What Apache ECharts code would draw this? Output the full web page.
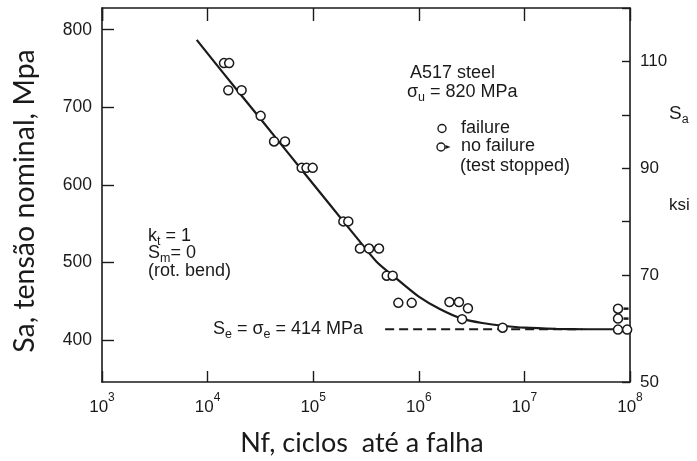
<!DOCTYPE html>
<html>
<head>
<meta charset="utf-8">
<script src="https://cdn.jsdelivr.net/npm/echarts@6/dist/echarts.min.js"></script>
<style>
  html, body { margin: 0; padding: 0; background: #fff; }
  #chart { width: 697px; height: 461px; }
</style>
</head>
<body>
<div id="chart"></div>
<script>
// S-N data for A517 steel, rotating bending, k_t = 1, S_m = 0
// Tests ending in failure: cycles to failure and stress amplitude (MPa)
const failCycles = [14300, 16000, 15700, 21000, 31800, 42600, 54100, 77800, 86400, 98900,
                    193000, 215000, 277000, 338000, 420000, 497000, 566000, 640000, 857000,
                    1950000, 2400000, 2920000, 2570000, 6220000];
const failStress = [757, 757, 722, 722, 689, 656, 656, 622, 622, 622,
                    553, 553, 518, 518, 518, 483, 483, 448, 448,
                    449, 449, 441, 427, 416];

// Run-outs (test stopped without failure)
const runoutCycles = [7.7e7, 7.7e7, 7.7e7, 9.4e7];
const runoutStress = [440.5, 427.7, 413.5, 413.5];
const runoutArrowCount = 3;

// Fitted S-N curve
const curveCycles = [7890, 14100, 25100, 44700, 79400, 141000, 251000, 398000, 631000,
                     1000000, 1580000, 2510000, 3980000, 6310000, 1e7, 2e7, 3.98e7, 1e8];
const curveStress = [787, 744, 702, 660, 618, 576, 534, 501, 478,
                     456, 440, 428, 422, 418.5, 416, 414.5, 414, 414];

// Fatigue limit and the range of the dashed reference line
const fatigueLimit = 414;
const limitLineCycles = [4.8e5, 3.5e7];

// Axis ranges and tick values
const cyclesRange = [1e3, 1e8];
const mpaRange = [346, 828];
const mpaTicks = [400, 500, 600, 700, 800];
const ksiRange = [50, 120];
const ksiTicks = [50, 60, 70, 80, 90, 100, 110, 120];
const ksiLabels = [50, 70, 90, 110];

const ink = '#1a1a1a';
const sans = '"Liberation Sans", Arial, sans-serif';
const titleFont = 'Lato, "Open Sans", sans-serif';

const zip = (a, b) => a.map((v, i) => [v, b[i]]);

const chart = echarts.init(document.getElementById('chart'), null, { renderer: 'canvas' });

// rich-text styles for subscripts in annotations
const subRich = {
  sub: { fontSize: 12.5, fontFamily: sans, fill: ink, verticalAlign: 'bottom', lineHeight: 12 }
};

function label(x, y, text, size, align) {
  return {
    type: 'text', x: x, y: y, z: 100,
    style: {
      text: text, fill: ink, font: size + 'px ' + sans,
      align: align || 'left', verticalAlign: 'middle',
      textAlign: align || 'left', textVerticalAlign: 'middle',
      lineHeight: 24, rich: subRich
    }
  };
}

const option = {
  animation: false,
  backgroundColor: '#fff',
  grid: { left: 102, right: 67, top: 8, bottom: 79, containLabel: false, outerBoundsMode: 'none' },
  xAxis: [
    {
      type: 'log', logBase: 10, min: cyclesRange[0], max: cyclesRange[1], position: 'bottom',
      axisLine: { show: true, lineStyle: { color: ink, width: 1.6 } },
      axisTick: { show: true, inside: true, length: 11, lineStyle: { color: ink, width: 1.4 } },
      splitLine: { show: false },
      minorTick: { show: false },
      axisLabel: {
        show: true, margin: 10, color: ink,
        formatter: function (v) {
          return '{b|10}{e|' + Math.round(Math.log10(v)) + '}';
        },
        rich: {
          b: { fontSize: 17, fontFamily: sans, color: ink, lineHeight: 24, verticalAlign: 'bottom' },
          e: { fontSize: 12, fontFamily: sans, color: ink, lineHeight: 12, verticalAlign: 'top' }
        }
      }
    },
    {
      type: 'log', logBase: 10, min: cyclesRange[0], max: cyclesRange[1], position: 'top',
      axisLine: { show: true, lineStyle: { color: ink, width: 1.6 } },
      axisTick: { show: true, inside: true, length: 13, lineStyle: { color: ink, width: 1.4 } },
      splitLine: { show: false },
      axisLabel: { show: false }
    }
  ],
  yAxis: [
    {
      type: 'value', min: mpaRange[0], max: mpaRange[1], position: 'left',
      axisLine: { show: true, lineStyle: { color: ink, width: 1.6 } },
      axisTick: { show: true, inside: true, length: 12, customValues: mpaTicks, lineStyle: { color: ink, width: 1.4 } },
      splitLine: { show: false },
      axisLabel: { show: true, customValues: mpaTicks, margin: 10, color: ink, fontSize: 17.5, fontFamily: sans }
    },
    {
      type: 'value', min: ksiRange[0], max: ksiRange[1], position: 'right',
      axisLine: { show: true, lineStyle: { color: ink, width: 1.6 } },
      axisTick: { show: true, inside: true, length: 8, customValues: ksiTicks, lineStyle: { color: ink, width: 1.4 } },
      splitLine: { show: false },
      axisLabel: { show: true, customValues: ksiLabels, margin: 10, color: ink, fontSize: 17, fontFamily: sans }
    }
  ],
  series: [
    {
      name: 'curve', type: 'line', xAxisIndex: 0, yAxisIndex: 0,
      data: zip(curveCycles, curveStress),
      smooth: 0.25, showSymbol: false, symbol: 'none',
      lineStyle: { color: ink, width: 2.2 }, z: 2
    },
    {
      name: 'fatigue limit', type: 'line', xAxisIndex: 0, yAxisIndex: 0,
      data: limitLineCycles.map(n => [n, fatigueLimit]),
      showSymbol: false, symbol: 'none',
      lineStyle: { color: ink, width: 2, type: [9, 5] }, z: 2
    },
    {
      name: 'failure', type: 'scatter', xAxisIndex: 0, yAxisIndex: 0,
      data: zip(failCycles, failStress),
      symbol: 'circle', symbolSize: 9,
      itemStyle: { color: '#fff', borderColor: ink, borderWidth: 1.5, opacity: 1 }, z: 5
    },
    {
      name: 'no failure', type: 'scatter', xAxisIndex: 0, yAxisIndex: 0,
      data: zip(runoutCycles, runoutStress),
      symbol: 'circle', symbolSize: 9,
      itemStyle: { color: '#fff', borderColor: ink, borderWidth: 1.5, opacity: 1 }, z: 5
    },
    {
      name: 'run-out arrows', type: 'scatter', xAxisIndex: 0, yAxisIndex: 0,
      data: zip(runoutCycles, runoutStress).slice(0, runoutArrowCount),
      symbol: 'rect', symbolSize: [5, 2.5], symbolOffset: [8, 0],
      itemStyle: { color: ink, opacity: 1 }, z: 4
    }
  ],
  graphic: [
    // axis titles
    {
      type: 'text', x: 25, y: 201, rotation: Math.PI / 2,
      style: { text: 'Sa, tensão nominal, Mpa', fill: ink, font: '28.5px ' + titleFont,
               align: 'center', verticalAlign: 'middle', textAlign: 'center', textVerticalAlign: 'middle' }
    },
    {
      type: 'text', x: 362, y: 443,
      style: { text: 'Nf, ciclos  até a falha', fill: ink, font: '27px ' + titleFont,
               align: 'center', verticalAlign: 'middle', textAlign: 'center', textVerticalAlign: 'middle' }
    },
    // material note
    label(410, 73, 'A517 steel', 18),
    label(407, 92, 'σ{sub|u} = 820 MPa', 18),
    // legend
    { type: 'circle', shape: { cx: 442, cy: 128.5, r: 4 }, style: { fill: '#fff', stroke: ink, lineWidth: 1.4 }, z: 100 },
    label(461, 128, 'failure', 18),
    { type: 'circle', shape: { cx: 441, cy: 147, r: 4 }, style: { fill: '#fff', stroke: ink, lineWidth: 1.4 }, z: 100 },
    { type: 'polygon', shape: { points: [[445.5, 145], [450.5, 147], [445.5, 149]] }, style: { fill: ink }, z: 100 },
    label(461, 146.5, 'no failure', 18),
    label(460, 166.5, '(test stopped)', 18),
    // test conditions
    label(148, 236, 'k{sub|t} = 1', 18),
    label(148, 253.5, 'S{sub|m}= 0', 18),
    label(148, 271.5, '(rot. bend)', 18),
    // fatigue limit
    label(213, 329, 'S{sub|e} = σ{sub|e} = ' + fatigueLimit + ' MPa', 18),
    // secondary axis caption
    label(669, 114, 'S{sub|a}', 19),
    label(669, 205, 'ksi', 17)
  ]
};

chart.setOption(option);
</script>
</body>
</html>
